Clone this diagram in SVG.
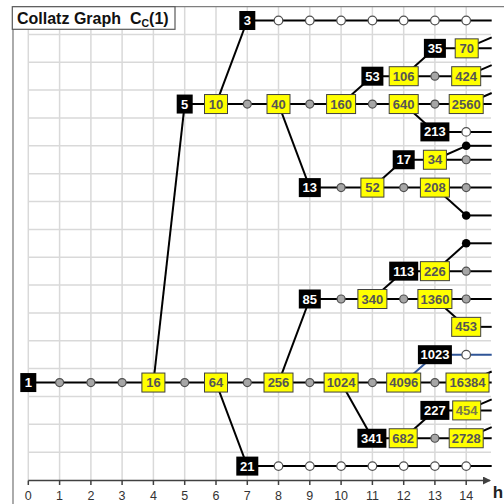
<svg xmlns="http://www.w3.org/2000/svg" width="504" height="504" viewBox="0 0 504 504">
<style>
.grid line{stroke:#d9d9d9;stroke-width:1.5}
.e line{stroke:#000;stroke-width:2}
.e line.blue{stroke:#2f5597}
.gc{fill:#a6a6a6;stroke:#505050;stroke-width:1.2}
.wc{fill:#fff;stroke:#505050;stroke-width:1.2}
.bd{fill:#000}
.b{fill:#000}
.y{fill:#ffff00;stroke:#404040;stroke-width:1}
text{font-family:"Liberation Sans",Arial,sans-serif;font-weight:bold;font-size:13px;text-anchor:middle}
.tb{fill:#fff}
.ty{fill:#555}
.ax{font-weight:normal;font-size:12.5px;fill:#333}
</style>
<defs>
<marker id="arr" markerWidth="8" markerHeight="8" refX="7" refY="4" orient="auto" markerUnits="userSpaceOnUse">
<path d="M0,0 L8,4 L0,8 z" fill="#404040"/>
</marker>
</defs>
<rect width="504" height="504" fill="#fff"/>
<g class="grid">
<line x1="28.3" y1="7" x2="28.3" y2="480"/>
<line x1="59.6" y1="7" x2="59.6" y2="480"/>
<line x1="90.9" y1="7" x2="90.9" y2="480"/>
<line x1="122.1" y1="7" x2="122.1" y2="480"/>
<line x1="153.4" y1="7" x2="153.4" y2="480"/>
<line x1="184.7" y1="7" x2="184.7" y2="480"/>
<line x1="216" y1="7" x2="216" y2="480"/>
<line x1="247.3" y1="7" x2="247.3" y2="480"/>
<line x1="278.5" y1="7" x2="278.5" y2="480"/>
<line x1="309.8" y1="7" x2="309.8" y2="480"/>
<line x1="341.1" y1="7" x2="341.1" y2="480"/>
<line x1="372.4" y1="7" x2="372.4" y2="480"/>
<line x1="403.7" y1="7" x2="403.7" y2="480"/>
<line x1="434.9" y1="7" x2="434.9" y2="480"/>
<line x1="466.2" y1="7" x2="466.2" y2="480"/>
<line x1="28.3" y1="34.4" x2="491" y2="34.4"/>
<line x1="28.3" y1="62.3" x2="491" y2="62.3"/>
<line x1="28.3" y1="90.1" x2="491" y2="90.1"/>
<line x1="28.3" y1="118" x2="491" y2="118"/>
<line x1="28.3" y1="145.8" x2="491" y2="145.8"/>
<line x1="28.3" y1="173.7" x2="491" y2="173.7"/>
<line x1="28.3" y1="201.5" x2="491" y2="201.5"/>
<line x1="28.3" y1="229.4" x2="491" y2="229.4"/>
<line x1="28.3" y1="257.2" x2="491" y2="257.2"/>
<line x1="28.3" y1="285.1" x2="491" y2="285.1"/>
<line x1="28.3" y1="312.9" x2="491" y2="312.9"/>
<line x1="28.3" y1="340.8" x2="491" y2="340.8"/>
<line x1="28.3" y1="368.6" x2="491" y2="368.6"/>
<line x1="28.3" y1="396.5" x2="491" y2="396.5"/>
<line x1="28.3" y1="424.3" x2="491" y2="424.3"/>
<line x1="28.3" y1="452.2" x2="491" y2="452.2"/>
</g>
<g id="frame">
<line x1="13" y1="6.7" x2="504" y2="6.7" stroke="#7f7f7f" stroke-width="1.3"/>
<line x1="13" y1="6.7" x2="13" y2="504" stroke="#7f7f7f" stroke-width="1.3"/>
</g>
<g id="axis">
<line x1="28.3" y1="480.5" x2="490" y2="480.5" stroke="#404040" stroke-width="1.5" marker-end="url(#arr)"/>
<g stroke="#404040" stroke-width="1.5">
<line x1="28.3" y1="480.5" x2="28.3" y2="485"/>
<line x1="59.6" y1="480.5" x2="59.6" y2="485"/>
<line x1="90.9" y1="480.5" x2="90.9" y2="485"/>
<line x1="122.1" y1="480.5" x2="122.1" y2="485"/>
<line x1="153.4" y1="480.5" x2="153.4" y2="485"/>
<line x1="184.7" y1="480.5" x2="184.7" y2="485"/>
<line x1="216" y1="480.5" x2="216" y2="485"/>
<line x1="247.3" y1="480.5" x2="247.3" y2="485"/>
<line x1="278.5" y1="480.5" x2="278.5" y2="485"/>
<line x1="309.8" y1="480.5" x2="309.8" y2="485"/>
<line x1="341.1" y1="480.5" x2="341.1" y2="485"/>
<line x1="372.4" y1="480.5" x2="372.4" y2="485"/>
<line x1="403.7" y1="480.5" x2="403.7" y2="485"/>
<line x1="434.9" y1="480.5" x2="434.9" y2="485"/>
<line x1="466.2" y1="480.5" x2="466.2" y2="485"/>
</g>
<text class="ax" x="28.3" y="500">0</text>
<text class="ax" x="59.6" y="500">1</text>
<text class="ax" x="90.9" y="500">2</text>
<text class="ax" x="122.1" y="500">3</text>
<text class="ax" x="153.4" y="500">4</text>
<text class="ax" x="184.7" y="500">5</text>
<text class="ax" x="216" y="500">6</text>
<text class="ax" x="247.3" y="500">7</text>
<text class="ax" x="278.5" y="500">8</text>
<text class="ax" x="309.8" y="500">9</text>
<text class="ax" x="341.1" y="500">10</text>
<text class="ax" x="372.4" y="500">11</text>
<text class="ax" x="403.7" y="500">12</text>
<text class="ax" x="434.9" y="500">13</text>
<text class="ax" x="466.2" y="500">14</text>
<text x="498" y="497.5" style="font-size:17px;fill:#222">h</text>
</g>
<g id="title">
<rect x="12.3" y="6.7" width="162.7" height="22.6" fill="#fff" stroke="#595959" stroke-width="1.2"/>
<text x="17" y="24" style="font-size:16px;text-anchor:start;fill:#111">Collatz Graph&#160; C<tspan dy="3" style="font-size:10.5px">C</tspan><tspan dy="-3">(1)</tspan></text>
</g>
<g class="e" id="connectors">
<line x1="247.3" y1="20.5" x2="491.7" y2="20.5"/>
<line x1="434.9" y1="48.35" x2="491.7" y2="48.35"/>
<line x1="372.4" y1="76.2" x2="491.7" y2="76.2"/>
<line x1="184.7" y1="104.05" x2="491.7" y2="104.05"/>
<line x1="434.9" y1="131.9" x2="491.7" y2="131.9"/>
<line x1="466.2" y1="145.8" x2="491.7" y2="145.8"/>
<line x1="403.7" y1="159.75" x2="491.7" y2="159.75"/>
<line x1="309.8" y1="187.6" x2="491.7" y2="187.6"/>
<line x1="466.2" y1="215.45" x2="491.7" y2="215.45"/>
<line x1="466.2" y1="243.3" x2="491.7" y2="243.3"/>
<line x1="403.7" y1="271.15" x2="491.7" y2="271.15"/>
<line x1="309.8" y1="299" x2="491.7" y2="299"/>
<line x1="466.2" y1="326.85" x2="491.7" y2="326.85"/>
<line class="blue" x1="434.9" y1="354.7" x2="491.7" y2="354.7"/>
<line x1="28.3" y1="382.55" x2="491.7" y2="382.55"/>
<line x1="434.9" y1="410.4" x2="491.7" y2="410.4"/>
<line x1="372.4" y1="438.25" x2="491.7" y2="438.25"/>
<line x1="247.3" y1="466.1" x2="491.7" y2="466.1"/>
<line x1="216" y1="104.05" x2="247.3" y2="20.5"/>
<line x1="153.4" y1="382.55" x2="184.7" y2="104.05"/>
<line x1="278.5" y1="104.05" x2="309.8" y2="187.6"/>
<line x1="341.1" y1="104.05" x2="372.4" y2="76.2"/>
<line x1="403.7" y1="76.2" x2="434.9" y2="48.35"/>
<line x1="403.7" y1="104.05" x2="434.9" y2="131.9"/>
<line x1="372.4" y1="187.6" x2="403.7" y2="159.75"/>
<line x1="434.9" y1="159.75" x2="466.2" y2="145.8"/>
<line x1="434.9" y1="187.6" x2="466.2" y2="215.45"/>
<line x1="434.9" y1="271.15" x2="466.2" y2="243.3"/>
<line x1="372.4" y1="299" x2="403.7" y2="271.15"/>
<line x1="434.9" y1="299" x2="466.2" y2="326.85"/>
<line x1="278.5" y1="382.55" x2="309.8" y2="299"/>
<line class="blue" x1="403.7" y1="382.55" x2="434.9" y2="354.7"/>
<line x1="216" y1="382.55" x2="247.3" y2="466.1"/>
<line x1="341.1" y1="382.55" x2="372.4" y2="438.25"/>
<line x1="403.7" y1="438.25" x2="434.9" y2="410.4"/>
<line x1="466.2" y1="48.35" x2="491.7" y2="37.3"/>
<line x1="466.2" y1="76.2" x2="491.7" y2="65.1"/>
<line x1="466.2" y1="104.05" x2="491.7" y2="93"/>
<line x1="466.2" y1="382.55" x2="491.7" y2="371.5"/>
<line x1="466.2" y1="410.4" x2="491.7" y2="399.3"/>
<line x1="466.2" y1="438.25" x2="491.7" y2="427.2"/>
</g>
<g id="points">
<circle class="wc" cx="278.5" cy="20.5" r="4.3"/>
<circle class="wc" cx="309.8" cy="20.5" r="4.3"/>
<circle class="wc" cx="341.1" cy="20.5" r="4.3"/>
<circle class="wc" cx="372.4" cy="20.5" r="4.3"/>
<circle class="wc" cx="403.7" cy="20.5" r="4.3"/>
<circle class="wc" cx="434.9" cy="20.5" r="4.3"/>
<circle class="wc" cx="466.2" cy="20.5" r="4.3"/>
<circle class="gc" cx="434.9" cy="76.2" r="4"/>
<circle class="gc" cx="247.3" cy="104.05" r="4"/>
<circle class="gc" cx="309.8" cy="104.05" r="4"/>
<circle class="gc" cx="372.4" cy="104.05" r="4"/>
<circle class="gc" cx="434.9" cy="104.05" r="4"/>
<circle class="wc" cx="466.2" cy="131.9" r="4.3"/>
<circle class="bd" cx="466.2" cy="145.8" r="4.3"/>
<circle class="gc" cx="466.2" cy="159.75" r="4"/>
<circle class="gc" cx="341.1" cy="187.6" r="4"/>
<circle class="gc" cx="403.7" cy="187.6" r="4"/>
<circle class="gc" cx="466.2" cy="187.6" r="4"/>
<circle class="bd" cx="466.2" cy="215.45" r="4.3"/>
<circle class="bd" cx="466.2" cy="243.3" r="4.3"/>
<circle class="gc" cx="466.2" cy="271.15" r="4"/>
<circle class="gc" cx="341.1" cy="299" r="4"/>
<circle class="gc" cx="403.7" cy="299" r="4"/>
<circle class="gc" cx="466.2" cy="299" r="4"/>
<circle class="wc" cx="466.2" cy="354.7" r="4.3"/>
<circle class="gc" cx="59.6" cy="382.55" r="4"/>
<circle class="gc" cx="90.9" cy="382.55" r="4"/>
<circle class="gc" cx="122.1" cy="382.55" r="4"/>
<circle class="gc" cx="184.7" cy="382.55" r="4"/>
<circle class="gc" cx="247.3" cy="382.55" r="4"/>
<circle class="gc" cx="309.8" cy="382.55" r="4"/>
<circle class="gc" cx="372.4" cy="382.55" r="4"/>
<circle class="gc" cx="434.9" cy="382.55" r="4"/>
<circle class="gc" cx="434.9" cy="438.25" r="4"/>
<circle class="wc" cx="278.5" cy="466.1" r="4.3"/>
<circle class="wc" cx="309.8" cy="466.1" r="4.3"/>
<circle class="wc" cx="341.1" cy="466.1" r="4.3"/>
<circle class="wc" cx="372.4" cy="466.1" r="4.3"/>
<circle class="wc" cx="403.7" cy="466.1" r="4.3"/>
<circle class="wc" cx="434.9" cy="466.1" r="4.3"/>
<circle class="wc" cx="466.2" cy="466.1" r="4.3"/>
</g>
<g id="n3"><rect class="b" x="239.3" y="11" width="16" height="19"/><text class="tb" x="247.3" y="25">3</text></g>
<g id="n35"><rect class="b" x="423.9" y="38.85" width="22" height="19"/><text class="tb" x="434.9" y="52.85">35</text></g>
<g id="n70"><rect class="y" x="455.2" y="38.85" width="23" height="19"/><text class="ty" x="466.7" y="52.85">70</text></g>
<g id="n53"><rect class="b" x="361.4" y="66.7" width="22" height="19"/><text class="tb" x="372.4" y="80.7">53</text></g>
<g id="n106"><rect class="y" x="389.2" y="66.7" width="29" height="19"/><text class="ty" x="403.7" y="80.7">106</text></g>
<g id="n424"><rect class="y" x="451.7" y="66.7" width="29" height="19"/><text class="ty" x="466.2" y="80.7">424</text></g>
<g id="n5"><rect class="b" x="176.7" y="94.55" width="16" height="19"/><text class="tb" x="184.7" y="108.55">5</text></g>
<g id="n10"><rect class="y" x="204.5" y="94.55" width="23" height="19"/><text class="ty" x="216" y="108.55">10</text></g>
<g id="n40"><rect class="y" x="267" y="94.55" width="23" height="19"/><text class="ty" x="278.5" y="108.55">40</text></g>
<g id="n160"><rect class="y" x="326.6" y="94.55" width="29" height="19"/><text class="ty" x="341.1" y="108.55">160</text></g>
<g id="n640"><rect class="y" x="389.2" y="94.55" width="29" height="19"/><text class="ty" x="403.7" y="108.55">640</text></g>
<g id="n2560"><rect class="y" x="449.2" y="94.55" width="34" height="19"/><text class="ty" x="466.2" y="108.55">2560</text></g>
<g id="n213"><rect class="b" x="420.4" y="122.4" width="29" height="19"/><text class="tb" x="434.9" y="136.4">213</text></g>
<g id="n17"><rect class="b" x="392.7" y="150.25" width="22" height="19"/><text class="tb" x="403.7" y="164.25">17</text></g>
<g id="n34"><rect class="y" x="423.4" y="150.25" width="23" height="19"/><text class="ty" x="434.9" y="164.25">34</text></g>
<g id="n13"><rect class="b" x="298.8" y="178.1" width="22" height="19"/><text class="tb" x="309.8" y="192.1">13</text></g>
<g id="n52"><rect class="y" x="360.9" y="178.1" width="23" height="19"/><text class="ty" x="372.4" y="192.1">52</text></g>
<g id="n208"><rect class="y" x="420.4" y="178.1" width="29" height="19"/><text class="ty" x="434.9" y="192.1">208</text></g>
<g id="n113"><rect class="b" x="389.2" y="261.65" width="29" height="19"/><text class="tb" x="403.7" y="275.65">113</text></g>
<g id="n226"><rect class="y" x="420.4" y="261.65" width="29" height="19"/><text class="ty" x="434.9" y="275.65">226</text></g>
<g id="n85"><rect class="b" x="298.8" y="289.5" width="22" height="19"/><text class="tb" x="309.8" y="303.5">85</text></g>
<g id="n340"><rect class="y" x="357.9" y="289.5" width="29" height="19"/><text class="ty" x="372.4" y="303.5">340</text></g>
<g id="n1360"><rect class="y" x="417.9" y="289.5" width="34" height="19"/><text class="ty" x="434.9" y="303.5">1360</text></g>
<g id="n453"><rect class="y" x="451.7" y="317.35" width="29" height="19"/><text class="ty" x="466.2" y="331.35">453</text></g>
<g id="n1023"><rect class="b" x="417.9" y="345.2" width="34" height="19"/><text class="tb" x="434.9" y="359.2">1023</text></g>
<g id="n1"><rect class="b" x="20.3" y="373.05" width="16" height="19"/><text class="tb" x="28.3" y="387.05">1</text></g>
<g id="n16"><rect class="y" x="141.9" y="373.05" width="23" height="19"/><text class="ty" x="153.4" y="387.05">16</text></g>
<g id="n64"><rect class="y" x="204.5" y="373.05" width="23" height="19"/><text class="ty" x="216" y="387.05">64</text></g>
<g id="n256"><rect class="y" x="264" y="373.05" width="29" height="19"/><text class="ty" x="278.5" y="387.05">256</text></g>
<g id="n1024"><rect class="y" x="324.1" y="373.05" width="34" height="19"/><text class="ty" x="341.1" y="387.05">1024</text></g>
<g id="n4096"><rect class="y" x="386.7" y="373.05" width="34" height="19"/><text class="ty" x="403.7" y="387.05">4096</text></g>
<g id="n16384"><rect class="y" x="446" y="373.05" width="43" height="19"/><text class="ty" x="467.5" y="387.05">16384</text></g>
<g id="n227"><rect class="b" x="420.4" y="400.9" width="29" height="19"/><text class="tb" x="434.9" y="414.9">227</text></g>
<g id="n454"><rect class="y" x="452.7" y="400.9" width="28" height="19"/><text class="ty" x="466.7" y="414.9" style="fill:#7a7a4a">454</text></g>
<g id="n341"><rect class="b" x="357.4" y="428.75" width="29" height="19"/><text class="tb" x="371.9" y="442.75">341</text></g>
<g id="n682"><rect class="y" x="389.2" y="428.75" width="28" height="19"/><text class="ty" x="403.2" y="442.75">682</text></g>
<g id="n2728"><rect class="y" x="449.2" y="428.75" width="34" height="19"/><text class="ty" x="466.2" y="442.75">2728</text></g>
<g id="n21"><rect class="b" x="236.3" y="456.6" width="22" height="19"/><text class="tb" x="247.3" y="470.6">21</text></g>
</svg>
